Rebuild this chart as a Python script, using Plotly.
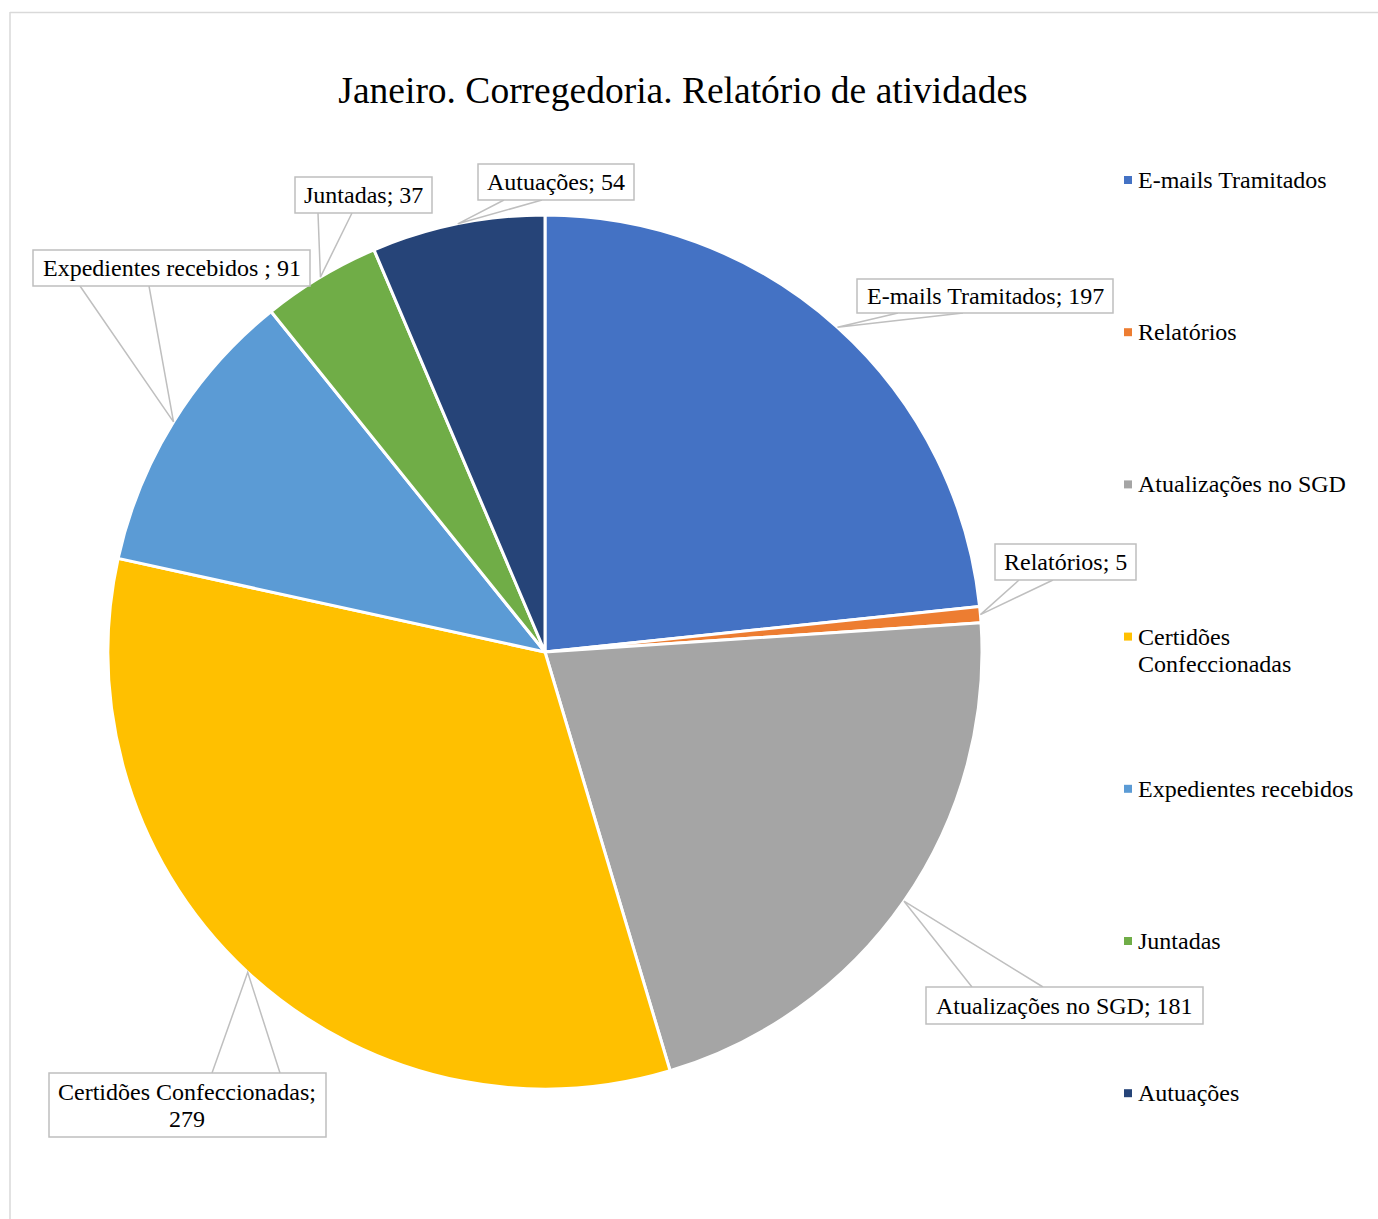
import math
import plotly.graph_objects as go

# ---- data ----
categories = ["E-mails Tramitados", "Relatórios", "Atualizações no SGD",
              "Certidões Confeccionadas", "Expedientes recebidos ", "Juntadas", "Autuações"]
values = [197, 5, 181, 279, 91, 37, 54]
colors = ["#4472C4", "#ED7D31", "#A5A5A5", "#FFC000", "#5B9BD5", "#70AD47", "#264478"]
legend_lines = [["E-mails Tramitados"], ["Relatórios"], ["Atualizações no SGD"],
                ["Certidões", "Confeccionadas"], ["Expedientes recebidos"], ["Juntadas"], ["Autuações"]]
title_text = "Janeiro. Corregedoria. Relatório de atividades"

# ---- layout styles (pixel geometry) ----
W, H = 1378, 1219
CX, CY, R = 545, 652, 437
FONT = "Liberation Serif, Times New Roman, serif"
# callout boxes: (x0, y0, x1, y1, wedge base x a, wedge base x b, side)
boxes = [
    (857, 279, 1113, 313, 898, 963, "bottom"),
    (995, 544, 1136, 580, 1019, 1053, "bottom"),
    (926, 987, 1203, 1024, 972, 1043, "top"),
    (49, 1073, 326, 1137, 212, 280, "top"),
    (33, 250, 310, 286, 80, 149, "bottom"),
    (295, 177, 432, 213, 318, 352, "bottom"),
    (478, 164, 634, 200, 504, 542, "bottom"),
]
LINE_H = 27


def px(x):
    return x / W


def py(y):
    return 1 - y / H


fig = go.Figure()
fig.add_trace(go.Pie(
    labels=categories, values=values, sort=False, direction="clockwise", rotation=0,
    marker=dict(colors=colors, line=dict(color="white", width=3)),
    textinfo="none", showlegend=False,
    domain=dict(x=[px(CX - R), px(CX + R)], y=[py(CY + R), py(CY - R)]),
))

shapes = []
annotations = []

# frame
shapes.append(dict(type="line", xref="paper", yref="paper", x0=px(10), x1=px(10), y0=py(12), y1=py(H),
                   line=dict(color="#D9D9D9", width=1.5)))
shapes.append(dict(type="line", xref="paper", yref="paper", x0=px(10), x1=px(W), y0=py(12.5), y1=py(12.5),
                   line=dict(color="#D9D9D9", width=1.5)))

# callouts
total = sum(values)
cum = 0
for i, (cat, v) in enumerate(zip(categories, values)):
    mid = (cum + v / 2) / total * 2 * math.pi
    cum += v
    ax = CX + R * math.sin(mid)
    ay = CY - R * math.cos(mid)
    x0, y0, x1, y1, ba, bb, side = boxes[i]
    by = y1 if side == "bottom" else y0
    shapes.append(dict(type="path", xref="paper", yref="paper",
                       path=f"M {px(ba)},{py(by)} L {px(ax)},{py(ay)} L {px(bb)},{py(by)}",
                       line=dict(color="#BFBFBF", width=1.5)))
    shapes.append(dict(type="rect", xref="paper", yref="paper",
                       x0=px(x0), x1=px(x1), y0=py(y1), y1=py(y0),
                       fillcolor="white", line=dict(color="#BFBFBF", width=1.5)))
    label = f"{cat}; {v}"
    if cat == "Certidões Confeccionadas":
        lines = [f"{cat};", f"{v}"]
    else:
        lines = [label]
    cy = (y0 + y1) / 2
    n = len(lines)
    for k, t in enumerate(lines):
        ty = cy + (k - (n - 1) / 2) * LINE_H
        annotations.append(dict(xref="paper", yref="paper", x=px((x0 + x1) / 2), y=py(ty),
                                text=t, showarrow=False, xanchor="center", yanchor="middle",
                                font=dict(family=FONT, size=24, color="#000000")))

# legend (manual)
LEG_X_SQ, LEG_X_TXT, LEG_Y0, LEG_DY = 1128, 1136, 180, 152.2
for i, (lines, c) in enumerate(zip(legend_lines, colors)):
    yc = LEG_Y0 + i * LEG_DY
    shapes.append(dict(type="rect", xref="paper", yref="paper",
                       x0=px(LEG_X_SQ - 4), x1=px(LEG_X_SQ + 4), y0=py(yc + 4), y1=py(yc - 4),
                       fillcolor=c, line=dict(width=0)))
    for k, t in enumerate(lines):
        annotations.append(dict(xref="paper", yref="paper", x=px(LEG_X_TXT), y=py(yc + k * LINE_H),
                                text=t, showarrow=False, xanchor="left", yanchor="middle",
                                font=dict(family=FONT, size=24, color="#000000")))

fig.update_layout(
    width=W, height=H, margin=dict(l=0, r=0, t=0, b=0),
    paper_bgcolor="white", plot_bgcolor="white",
    title=dict(text=title_text, x=px(683), xanchor="center", y=py(90), yanchor="middle",
               font=dict(family=FONT, size=37.5, color="#000000")),
    shapes=shapes, annotations=annotations, showlegend=False,
)

fig.write_html("out.html", config={"displayModeBar": False},
               post_script="document.body.style.margin='0';document.body.style.overflow='hidden';")
